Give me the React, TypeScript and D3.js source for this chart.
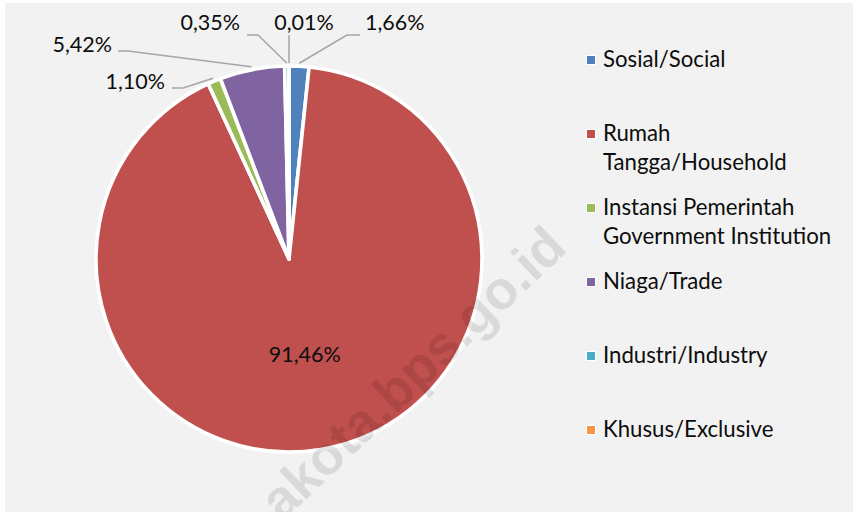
import React from 'react';
import * as d3 from 'd3';

const categories = [
  'Sosial/Social',
  'Rumah Tangga/Household',
  'Instansi Pemerintah Government Institution',
  'Niaga/Trade',
  'Industri/Industry',
  'Khusus/Exclusive',
];
const legendLines = [
  ['Sosial/Social'],
  ['Rumah', 'Tangga/Household'],
  ['Instansi Pemerintah', 'Government Institution'],
  ['Niaga/Trade'],
  ['Industri/Industry'],
  ['Khusus/Exclusive'],
];
const shares = [1.66, 91.46, 1.1, 5.42, 0.35, 0.01];
const colors = ['#4f81bd', '#c0504d', '#9bbb59', '#8064a2', '#4bacc6', '#f79646'];

// label placement (Excel-style outside labels with leader lines)
// [elbowX, elbowY, endX, textX, textY, anchor]; null = label inside slice
const labelLayout: ([number, number, number, number, number, string] | null)[] = [
  [347, 35, 360, 365, 30, 'start'],
  null,
  [183, 88, 172, 165, 89, 'end'],
  [128, 51, 118, 112, 52, 'end'],
  [258, 35, 247, 240, 30, 'end'],
  [289, 35, 289, 304, 30, 'middle'],
];

const W = 855;
const H = 512;
const cx = 289;
const cy = 259;
const R = 193;
const font = 'Lato, "Open Sans", sans-serif';

const fmt = (v: number) => v.toFixed(2).replace('.', ',') + '%';

export default function App() {
  const pie = d3.pie<number>().sort(null).value(d => d)(shares);
  const arc = d3.arc<d3.PieArcDatum<number>>().innerRadius(0).outerRadius(R);
  const legendY = d3.scaleLinear().domain([0, 1]).range([67, 141]);

  return (
    <svg width={W} height={H} style={{ position: 'absolute', left: 0, top: 0 }}>
      <rect x={0} y={0} width={W} height={H} fill="#ffffff" />
      <rect x={5} y={3} width={848} height={509} fill="#f2f2f2" />

      <g transform={`translate(${cx},${cy})`}>
        {pie.map((d, i) => (
          <path key={i} d={arc(d) || ''} fill={colors[i]} stroke="#ffffff" strokeWidth={3.6} strokeLinejoin="round" />
        ))}
      </g>

      {pie.map((d, i) => {
        const lay = labelLayout[i];
        if (!lay) {
          const [x, y] = arc.centroid(d);
          return (
            <text key={i} x={cx + x} y={cy + y} dy="0.35em" textAnchor="middle" fontFamily={font} fontSize={21.5} fill="#0d0d0d">
              {fmt(shares[i])}
            </text>
          );
        }
        const mid = (d.startAngle + d.endAngle) / 2;
        const sx = cx + Math.sin(mid) * (R + 3);
        const sy = cy - Math.cos(mid) * (R + 3);
        const [ex, ey, endX, tx, ty, anchor] = lay;
        return (
          <g key={i}>
            <polyline points={`${sx},${sy} ${ex},${ey} ${endX},${ey}`} fill="none" stroke="#a6a6a6" strokeWidth={1.5} />
            <text x={tx} y={ty} textAnchor={anchor} fontFamily={font} fontSize={21.5} fill="#0d0d0d">
              {fmt(shares[i])}
            </text>
          </g>
        );
      })}

      <g>
        {categories.map((c, i) => {
          const y = legendY(i);
          return (
            <g key={c}>
              <rect x={586} y={y - 12} width={10} height={10} fill="#ffffff" />
              <rect x={587} y={y - 11} width={8} height={8} fill={colors[i]} />
              {legendLines[i].map((line, j) => (
                <text key={j} x={603} y={y + j * 29} fontFamily={font} fontSize={22.2} fill="#0d0d0d">
                  {line}
                </text>
              ))}
            </g>
          );
        })}
      </g>

      <text
        transform="translate(569,250) rotate(-43.5)"
        textAnchor="end"
        fontFamily='"Liberation Sans", Arial, sans-serif'
        fontWeight="bold"
        fontSize={54}
        fill="#000000"
        fillOpacity={0.1}
      >
        akota.bps.go.id
      </text>
    </svg>
  );
}
